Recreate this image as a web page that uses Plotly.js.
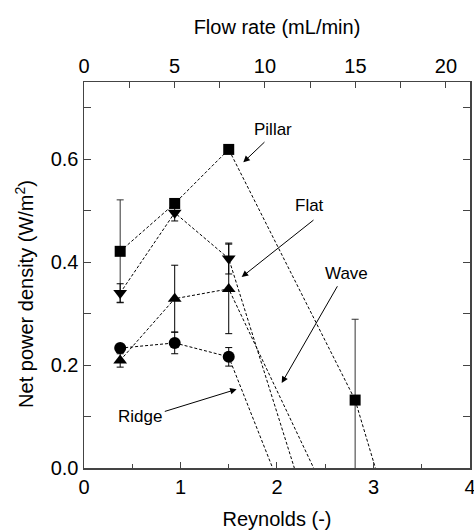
<!DOCTYPE html>
<html>
<head>
<meta charset="utf-8">
<script src="https://cdn.plot.ly/plotly-3.0.1.min.js"></script>
<style>html,body{margin:0;padding:0;background:#fff;}#chart{width:474px;height:530px;}</style>
</head>
<body>
<div id="chart"></div>
<script>
// Reynolds numbers of the measurements (flow rates 2, 5, 8, 15 mL/min)
const reynolds = [0.375, 0.94, 1.5];
const reynoldsPillar = [0.375, 0.94, 1.5, 2.81];
const flowRateTicks = [0, 5, 10, 15, 20];

// Net power density (W/m2) and error
const pillarPower = [0.421, 0.514, 0.619, 0.132];
const pillarErr   = [0.100, 0, 0, 0.157];
const flatPower   = [0.340, 0.496, 0.407];
const flatErr     = [0.018, 0.016, 0.030];
const wavePower   = [0.209, 0.329, 0.348];
const waveErr     = [0.013, 0.065, 0.087];
const ridgePower  = [0.233, 0.243, 0.216];
const ridgeErr    = [0.004, 0.021, 0.018];

// Reynolds number where the extrapolated net power reaches zero
const zeroRePillar = 3.02;
const zeroReFlat   = 2.18;
const zeroReWave   = 2.38;
const zeroReRidge  = 1.955;

const seriesNames = ['Pillar', 'Flat', 'Wave', 'Ridge'];

const dashStyle = {color: '#000', width: 1, dash: '3px,2px'};
function lineTrace(xs, ys, zeroRe, name) {
  return {x: xs.concat([zeroRe]), y: ys.concat([0]), mode: 'lines', line: dashStyle,
          hoverinfo: 'skip', showlegend: false, name: name};
}
function markerTrace(xs, ys, err, symbol, size, name, errColor) {
  return {x: xs, y: ys, mode: 'markers', name: name, showlegend: false,
          marker: {symbol: symbol, size: size, color: '#000'},
          error_y: {type: 'data', array: err, visible: true, color: errColor || '#000', thickness: 1, width: 3.5}};
}

const traces = [
  lineTrace(reynoldsPillar, pillarPower, zeroRePillar, 'Pillar'),
  lineTrace(reynolds, flatPower, zeroReFlat, 'Flat'),
  lineTrace(reynolds, wavePower, zeroReWave, 'Wave'),
  lineTrace(reynolds, ridgePower, zeroReRidge, 'Ridge'),
  markerTrace(reynoldsPillar, pillarPower, pillarErr, 'square', 11, 'Pillar', '#333'),
  markerTrace(reynolds, flatPower, flatErr, 'triangle-down', 12, 'Flat'),
  markerTrace(reynolds, wavePower, waveErr, 'triangle-up', 12, 'Wave'),
  markerTrace(reynolds, ridgePower, ridgeErr, 'circle', 12, 'Ridge'),
  // invisible trace so the top flow-rate axis is drawn
  {x: flowRateTicks, y: flowRateTicks.map(() => null), xaxis: 'x2', mode: 'markers',
   hoverinfo: 'skip', showlegend: false, marker: {opacity: 0}}
];

const fontFam = 'Liberation Sans, Arial, sans-serif';
const axisCol = '#444';
const arrowSpecs = [
  {tip: [1.651, 0.594], tail: [1.886, 0.636], label: [1.959, 0.658]},
  {tip: [1.634, 0.371], tail: [2.394, 0.484], label: [2.332, 0.511]},
  {tip: [2.049, 0.165], tail: [2.635, 0.356], label: [2.725, 0.378]},
  {tip: [1.582, 0.153], tail: [0.822, 0.109], label: [0.585, 0.101]}
];
const annotations = [];
arrowSpecs.forEach((a, i) => {
  annotations.push({x: a.tip[0], y: a.tip[1], xref: 'x', yref: 'y', ax: a.tail[0], ay: a.tail[1],
    axref: 'x', ayref: 'y', text: '', showarrow: true, arrowhead: 2, arrowsize: 1.3, arrowwidth: 1, arrowcolor: '#000'});
  annotations.push({x: a.label[0], y: a.label[1], xref: 'x', yref: 'y', text: seriesNames[i],
    showarrow: false, font: {family: fontFam, size: 17, color: '#000'}});
});
annotations.push({x: (25 - 84) / 386, y: 0.451, xref: 'paper', yref: 'paper', xanchor: 'center', yanchor: 'middle',
  text: 'Net power density (W/m<sup>2</sup>)',
  textangle: -90, showarrow: false, font: {family: fontFam, size: 20, color: '#000'}});

const layout = {
  width: 474, height: 530,
  margin: {l: 84, r: 4, t: 82, b: 62, pad: 0},
  paper_bgcolor: '#fff', plot_bgcolor: '#fff',
  font: {family: fontFam, size: 20, color: '#000'},
  showlegend: false,
  xaxis: {range: [0, 4.0005], dtick: 1, tick0: 0, ticks: 'inside', ticklen: 6, tickcolor: axisCol,
    minor: {dtick: 0.5, ticks: 'inside', ticklen: 4, tickcolor: axisCol},
    ticklabeloverflow: 'allow',
    showline: true, linecolor: axisCol, linewidth: 1.5, mirror: false, showgrid: false, zeroline: false,
    title: {text: 'Reynolds (-)', font: {size: 20}, standoff: 18}, tickfont: {size: 20}},
  xaxis2: {overlaying: 'x', side: 'top', anchor: 'y', range: [0, 21.33], dtick: 5, tick0: 0,
    ticks: 'inside', ticklen: 6, tickcolor: axisCol,
    minor: {dtick: 2.5, ticks: 'inside', ticklen: 6, tickcolor: axisCol},
    showline: true, linecolor: axisCol, linewidth: 1.5, showgrid: false, zeroline: false,
    title: {text: 'Flow rate (mL/min)', font: {size: 20}, standoff: 14}, tickfont: {size: 20}},
  yaxis: {range: [0, 0.75], dtick: 0.2, tick0: 0, tickformat: '.1f', ticks: 'inside', ticklen: 7, tickcolor: axisCol,
    minor: {dtick: 0.1, ticks: 'inside', ticklen: 7, tickcolor: axisCol},
    showline: true, linecolor: axisCol, linewidth: 1.5, mirror: 'ticks', showgrid: false, zeroline: false,
    tickfont: {size: 20}},
  annotations: annotations
};

Plotly.newPlot('chart', traces, layout, {staticPlot: true, displayModeBar: false});
</script>
</body>
</html>
